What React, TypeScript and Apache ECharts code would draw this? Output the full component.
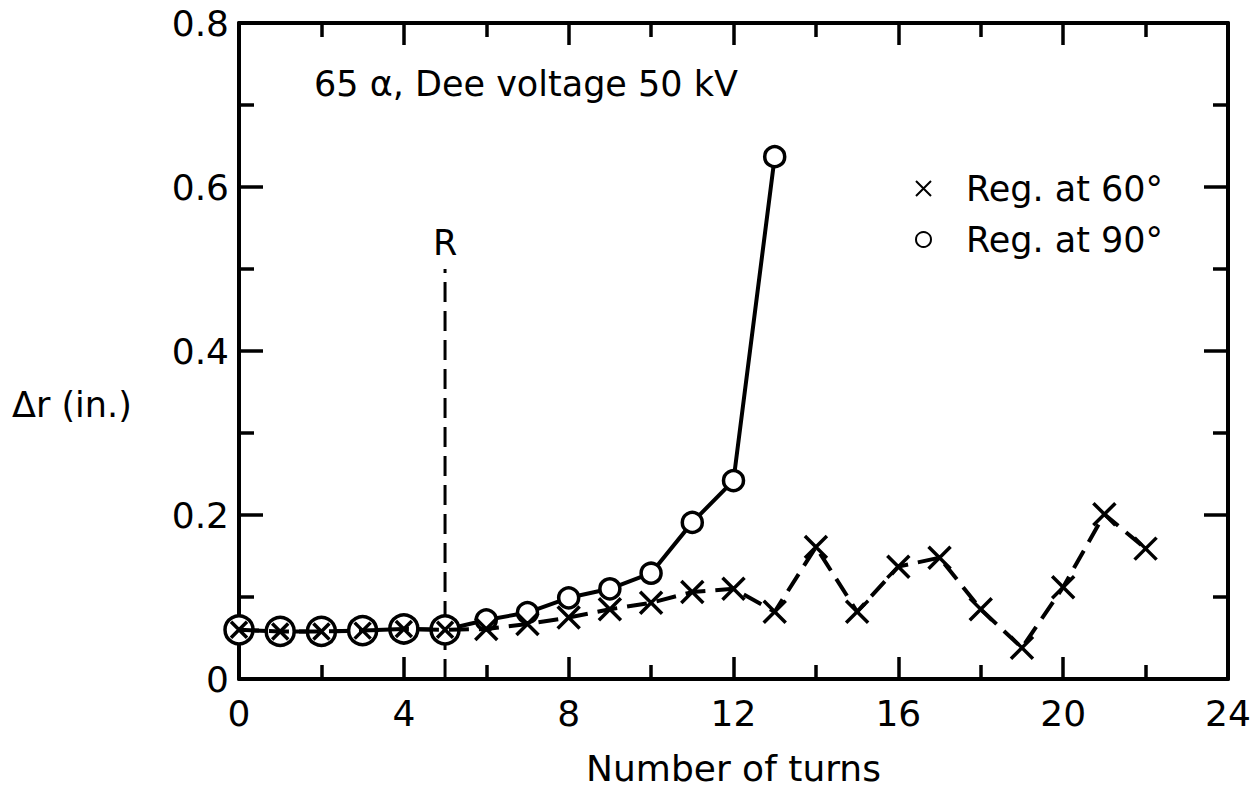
import React, { useEffect, useRef } from 'react';
import * as echarts from 'echarts';

// ---- data ----
const turns60 = [0, 1, 2, 3, 4, 5, 6, 7, 8, 9, 10, 11, 12, 13, 14, 15, 16, 17, 18, 19, 20, 21, 22];
const dr60 = [0.06, 0.058, 0.058, 0.059, 0.061, 0.06, 0.061, 0.067, 0.075, 0.085, 0.093, 0.106, 0.11, 0.082, 0.161, 0.082, 0.137, 0.148, 0.085, 0.038, 0.112, 0.201, 0.159];
const turns90 = [0, 1, 2, 3, 4, 5, 6, 7, 8, 9, 10, 11, 12, 13];
const dr90 = [0.06, 0.058, 0.058, 0.059, 0.061, 0.06, 0.072, 0.081, 0.099, 0.11, 0.129, 0.191, 0.242, 0.637];
const rTurns = [5, 5];
const rValues = [0, 0.5];
const rLabel = 'R';
const seriesNames = ['Reg. at 60°', 'Reg. at 90°'];
const titleText = '65 α, Dee voltage 50 kV';
const xName = 'Number of turns';
const yName = 'Δr (in.)';

const CROSS = 'path://M0,0L10,10M10,0L0,10';
const FONT = "'DejaVu Sans', sans-serif";
const FS = 35;

// number of leading points where both curves coincide (drawn as ⊗)
let overlap = 0;
while (overlap < Math.min(dr60.length, dr90.length) && dr60[overlap] === dr90[overlap]) overlap++;

export default function App() {
  const ref = useRef<HTMLDivElement>(null);
  useEffect(() => {
    if (!ref.current) return;
    const chart = echarts.init(ref.current, undefined, { renderer: 'svg' });
    const black = '#000';
    const tickStyle = { color: black, width: 3.5 };
    const baseX = {
      type: 'value',
      min: 0,
      max: 24,
      interval: 4,
      axisLine: { show: true, onZero: false, lineStyle: { color: black, width: 4 } },
      axisTick: { show: true, inside: true, length: 22, lineStyle: tickStyle },
      minorTick: { show: true, splitNumber: 2, length: 14, lineStyle: tickStyle },
      splitLine: { show: false },
      minorSplitLine: { show: false },
    };
    const baseY = {
      type: 'value',
      min: 0,
      max: 0.8,
      interval: 0.2,
      axisLine: { show: true, onZero: false, lineStyle: { color: black, width: 4 } },
      axisTick: { show: true, inside: true, length: 24, lineStyle: tickStyle },
      minorTick: { show: true, splitNumber: 2, length: 15, lineStyle: tickStyle },
      splitLine: { show: false },
      minorSplitLine: { show: false },
    };
    const option: any = {
      animation: false,
      backgroundColor: '#fff',
      grid: { left: 239, top: 23, width: 989, height: 656, containLabel: false, outerBoundsMode: 'none' },
      xAxis: [
        {
          ...baseX,
          position: 'bottom',
          axisLabel: { show: true, margin: 16, color: black, fontSize: FS + 1, fontFamily: FONT },
          name: xName,
          nameLocation: 'middle',
          nameGap: 72,
          nameTextStyle: { color: black, fontSize: FS + 1, lineHeight: FS, fontFamily: FONT },
        },
        { ...baseX, position: 'top', axisLabel: { show: false } },
      ],
      yAxis: [
        {
          ...baseY,
          position: 'left',
          axisLabel: {
            show: true,
            margin: 10,
            color: black,
            fontSize: FS + 1,
            fontFamily: FONT,
            formatter: (v: number) => (v === 0 ? '0' : v.toFixed(1)),
          },
        },
        { ...baseY, position: 'right', axisLabel: { show: false } },
      ],
      legend: {
        data: [
          { name: seriesNames[0], icon: CROSS },
          { name: seriesNames[1], icon: 'circle' },
        ],
        orient: 'vertical',
        left: 910,
        top: 166,
        itemGap: 16,
        itemWidth: 15,
        itemHeight: 15,
        selectedMode: false,
        textStyle: { color: black, fontSize: FS, fontFamily: FONT, padding: [0, 0, 0, 30] },
      },
      graphic: [
        {
          type: 'text',
          left: 314,
          top: 66,
          style: { text: titleText, fill: black, fontSize: FS, fontFamily: FONT },
        },
        {
          type: 'text',
          left: 12,
          top: 387,
          style: { text: yName, fill: black, fontSize: FS, fontFamily: FONT },
        },
      ],
      series: [
        {
          name: 'ref',
          type: 'line',
          z: 1,
          data: rTurns.map((t, i) =>
            i === rTurns.length - 1
              ? {
                  value: [t, rValues[i]],
                  symbol: 'circle',
                  symbolSize: 1,
                  itemStyle: { color: 'transparent', borderWidth: 0 },
                  label: { show: true, formatter: rLabel, position: 'top', distance: 8, color: black, fontSize: FS, fontFamily: FONT },
                }
              : { value: [t, rValues[i]], symbol: 'none' }
          ),
          lineStyle: { color: black, width: 3, type: [20, 9] },
          silent: true,
        },
        {
          name: seriesNames[1],
          type: 'line',
          z: 2,
          data: turns90.map((t, i) => ({ value: [t, dr90[i]], symbolSize: i < overlap ? 28 : 20 })),
          symbol: 'circle',
          lineStyle: { color: black, width: 4 },
          itemStyle: { color: '#fff', borderColor: black, borderWidth: 3.5 },
        },
        {
          name: seriesNames[0],
          type: 'line',
          z: 3,
          data: turns60.map((t, i) => ({ value: [t, dr60[i]], symbolSize: i < overlap ? 16 : 22 })),
          symbol: CROSS,
          lineStyle: { color: black, width: 4, type: [20, 10] },
          itemStyle: { color: black, borderColor: black, borderWidth: 3.5 },
        },
      ],
    };
    chart.setOption(option);
    return () => chart.dispose();
  }, []);
  return <div ref={ref} style={{ position: 'fixed', left: 0, top: 0, width: 1251, height: 788 }} />;
}
